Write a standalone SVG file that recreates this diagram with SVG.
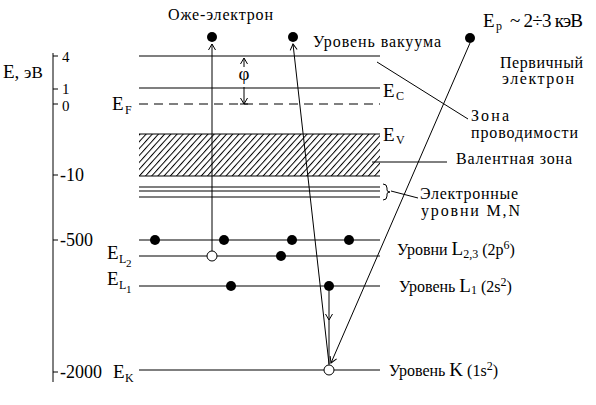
<svg xmlns="http://www.w3.org/2000/svg" width="596" height="405" viewBox="0 0 596 405">
<style>
  text { font-family: "Liberation Serif", "DejaVu Serif", "Times New Roman", serif; fill: #000; }
  .lbl { font-size: 16px; }
  .big { font-size: 19px; }
  .num { font-size: 18px; }
  .numS { font-size: 15px; }
  .sub { font-size: 12px; }
  .subsub { font-size: 11px; }
  .lvl { stroke: #000; stroke-width: 1.2; fill: none; }
  .thin { stroke: #000; stroke-width: 1; fill: none; }
  .dash { stroke: #000; stroke-width: 1.2; stroke-dasharray: 9 6; fill: none; }
  .el { fill: #000; }
  .hole { fill: #fff; stroke: #000; stroke-width: 1; }
  .arr { stroke: #000; stroke-width: 1; fill: none; }
</style>
<defs>
  <pattern id="hatch" patternUnits="userSpaceOnUse" width="4.6" height="10" patternTransform="rotate(42)">
    <line x1="0.5" y1="0" x2="0.5" y2="10" stroke="#000" stroke-width="1"/>
  </pattern>
  <marker id="ah" markerUnits="userSpaceOnUse" markerWidth="12" markerHeight="12" refX="0" refY="0" viewBox="-7 -6 12 12" orient="auto" overflow="visible">
    <path d="M-6,-3.5 L0,0 L-6,3.5" fill="none" stroke="#000" stroke-width="1"/>
  </marker>
</defs>

<g id="axis">
  <line class="thin" x1="53" y1="53" x2="53" y2="382"/>
  <line class="thin" x1="53" y1="56" x2="58" y2="56"/>
  <line class="thin" x1="53" y1="89" x2="58" y2="89"/>
  <line class="thin" x1="53" y1="104" x2="58" y2="104"/>
  <line class="thin" x1="53" y1="175" x2="58" y2="175"/>
  <line class="thin" x1="53" y1="240" x2="58" y2="240"/>
  <line class="thin" x1="53" y1="372" x2="58" y2="372"/>
  <text class="big" x="3" y="78">E, <tspan font-size="17">эВ</tspan></text>
  <text class="numS" x="62" y="62">4</text>
  <text class="numS" x="62" y="94">1</text>
  <text class="numS" x="62" y="111">0</text>
  <text class="num" x="60" y="181">-10</text>
  <text class="num" x="60" y="246">-500</text>
  <text class="num" x="60" y="378">-2000</text>
</g>

<g id="level-vacuum">
  <line class="lvl" x1="139" y1="56" x2="380" y2="56"/>
  <text class="lbl" x="313" y="47" textLength="128" lengthAdjust="spacing">Уровень вакуума</text>
</g>
<g id="level-EC">
  <line class="lvl" x1="139" y1="88" x2="380" y2="88"/>
  <text class="big" x="383" y="97">E</text><text class="sub" x="396" y="100">C</text>
</g>
<g id="level-EF">
  <line class="dash" x1="139" y1="104" x2="380" y2="104"/>
  <text class="big" x="112" y="110">E</text><text class="sub" x="125" y="114">F</text>
</g>
<g id="valence-band">
  <rect x="139" y="134" width="241" height="42" fill="url(#hatch)"/>
  <line class="lvl" x1="139" y1="134" x2="380" y2="134"/>
  <line class="lvl" x1="139" y1="176" x2="380" y2="176"/>
  <text class="big" x="383" y="141">E</text><text class="sub" x="396" y="144">V</text>
</g>
<g id="levels-MN">
  <line class="lvl" x1="139" y1="187" x2="380" y2="187"/>
  <line class="lvl" x1="139" y1="191" x2="380" y2="191"/>
  <line class="lvl" x1="139" y1="197" x2="380" y2="197"/>
  <path class="thin" d="M383,184 Q387,184 387,188 L387,190 Q387,192 390,192 Q387,192 387,194 L387,196 Q387,200 383,200"/>
</g>
<g id="level-L23">
  <line class="lvl" x1="139" y1="240" x2="380" y2="240"/>
  <line class="lvl" x1="139" y1="256" x2="380" y2="256"/>
  <text class="big" x="107" y="259">E</text><text class="sub" x="119" y="263">L</text><text class="subsub" x="126" y="267">2</text>
</g>
<g id="level-L1">
  <line class="lvl" x1="139" y1="286" x2="380" y2="286"/>
  <text class="big" x="107" y="285">E</text><text class="sub" x="119" y="289">L</text><text class="subsub" x="126" y="293">1</text>
</g>
<g id="level-K">
  <line class="lvl" x1="139" y1="370" x2="380" y2="370"/>
  <text class="big" x="113" y="378">E</text><text class="sub" x="125" y="382">K</text>
</g>

<g id="electrons">
  <circle class="el" cx="212" cy="37" r="5"/>
  <circle class="el" cx="293" cy="37" r="5"/>
  <circle class="el" cx="470" cy="38" r="5"/>
  <circle class="el" cx="155" cy="240" r="5"/>
  <circle class="el" cx="224" cy="240" r="5"/>
  <circle class="el" cx="292" cy="240" r="5"/>
  <circle class="el" cx="349" cy="240" r="5"/>
  <circle class="el" cx="281" cy="256" r="5"/>
  <circle class="el" cx="231" cy="286" r="5"/>
  <circle class="el" cx="329" cy="286" r="5"/>
</g>

<g id="connectors">
  <line class="arr" x1="212" y1="251" x2="212" y2="44" marker-end="url(#ah)"/>
  <line class="arr" x1="329" y1="364" x2="293" y2="44" marker-end="url(#ah)"/>
  <line class="arr" x1="470" y1="43" x2="331" y2="363" marker-end="url(#ah)"/>
  <line class="arr" x1="329" y1="291" x2="329" y2="320" marker-end="url(#ah)"/>
  <line class="arr" x1="329" y1="320" x2="329" y2="365"/>
  <line class="arr" x1="244" y1="67" x2="244" y2="58" marker-end="url(#ah)"/>
  <line class="arr" x1="244" y1="87" x2="244" y2="104" marker-end="url(#ah)"/>
  <line class="thin" x1="240" y1="104" x2="248" y2="104"/>
  <line class="thin" x1="377" y1="62" x2="468" y2="119"/>
  <line class="thin" x1="372" y1="162" x2="447" y2="162"/>
  <line class="thin" x1="391" y1="191" x2="418" y2="198"/>
</g>

<g id="holes">
  <circle class="hole" cx="212" cy="256" r="5"/>
  <circle class="hole" cx="329" cy="370" r="5"/>
</g>

<g id="labels">
  <text class="lbl" x="168" y="20" textLength="105" lengthAdjust="spacing">Оже-электрон</text>
  <text class="big" x="244" y="80" text-anchor="middle">φ</text>
  <text class="big" x="483" y="27">E</text><text class="sub" x="496" y="30">p</text>
  <text class="big" x="510" y="27" textLength="73" lengthAdjust="spacing">~ 2÷3 кэВ</text>
  <text class="lbl" x="500" y="68" textLength="83" lengthAdjust="spacing">Первичный</text>
  <text class="lbl" x="502" y="84" textLength="72" lengthAdjust="spacing">электрон</text>
  <text class="lbl" x="471" y="121" textLength="38" lengthAdjust="spacing">Зона</text>
  <text class="lbl" x="471" y="138" textLength="107" lengthAdjust="spacing">проводимости</text>
  <text class="lbl" x="456" y="164" textLength="116" lengthAdjust="spacing">Валентная зона</text>
  <text class="lbl" x="420" y="199" textLength="98" lengthAdjust="spacing">Электронные</text>
  <text class="lbl" x="421" y="216" textLength="99" lengthAdjust="spacing">уровни M,N</text>
  <text class="lbl" x="397" y="255">Уровни <tspan class="big">L</tspan><tspan class="sub" dy="3">2,3</tspan><tspan dy="-3"> (2p</tspan><tspan class="sub" dy="-6">6</tspan><tspan dy="6">)</tspan></text>
  <text class="lbl" x="399" y="292">Уровень <tspan class="big">L</tspan><tspan class="sub" dy="2">1</tspan><tspan dy="-2"> (2s</tspan><tspan class="sub" dy="-6">2</tspan><tspan dy="6">)</tspan></text>
  <text class="lbl" x="389" y="376">Уровень <tspan class="big">K</tspan> (1s<tspan class="sub" dy="-6">2</tspan><tspan dy="6">)</tspan></text>
</g>
</svg>
